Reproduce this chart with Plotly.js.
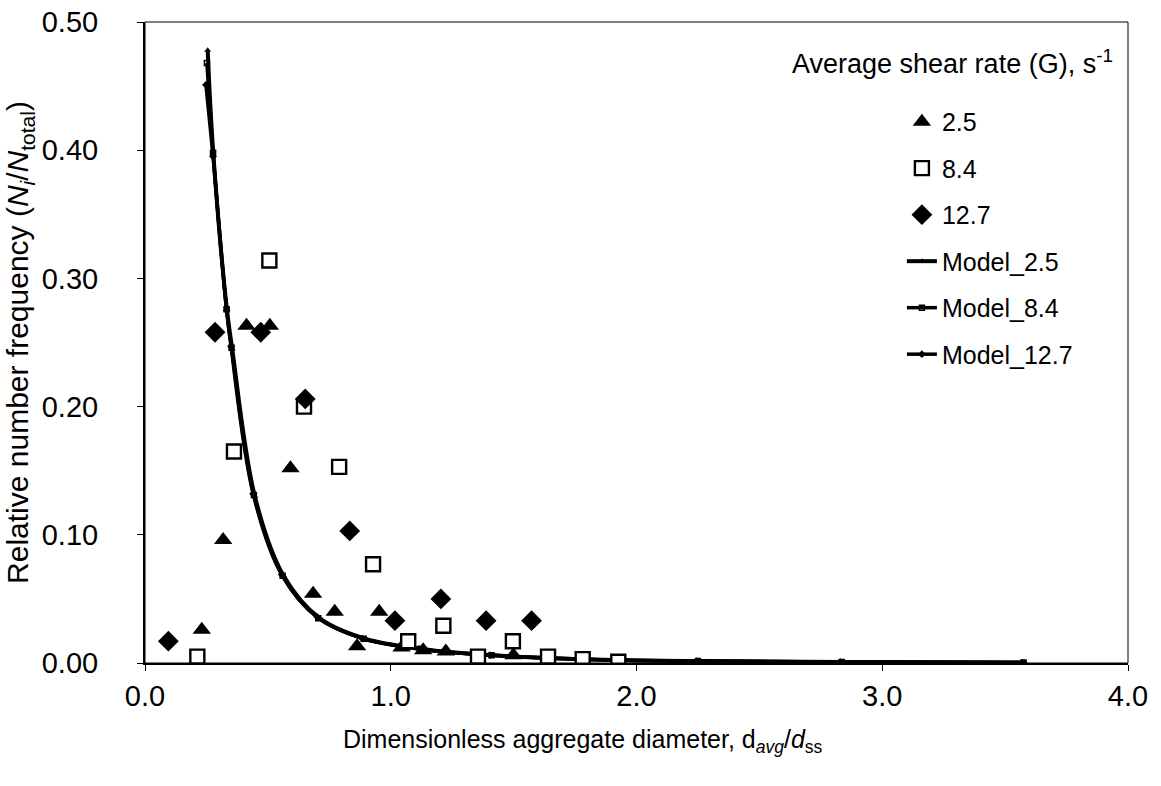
<!DOCTYPE html>
<html>
<head>
<meta charset="utf-8">
<script src="https://cdn.plot.ly/plotly-3.0.1.min.js"></script>
<style>html,body{margin:0;padding:0;background:#fff;}#chart{width:1161px;height:786px;}</style>
</head>
<body>
<div id="chart"></div>
<script>
// Measured data, G = 2.5 s^-1 (triangles)
const x_g25 = [0.231, 0.318, 0.413, 0.508, 0.592, 0.684, 0.772, 0.863, 0.953, 1.044, 1.132, 1.224, 1.499];
const y_g25 = [0.026, 0.096, 0.263, 0.263, 0.152, 0.054, 0.040, 0.013, 0.040, 0.012, 0.010, 0.009, 0.006];
// Measured data, G = 8.4 s^-1 (open squares)
const x_g84 = [0.213, 0.362, 0.506, 0.647, 0.790, 0.928, 1.071, 1.214, 1.355, 1.497, 1.640, 1.781, 1.926];
const y_g84 = [0.005, 0.165, 0.314, 0.200, 0.153, 0.077, 0.017, 0.029, 0.005, 0.017, 0.005, 0.003, 0.001];
// Measured data, G = 12.7 s^-1 (diamonds)
const x_g127 = [0.095, 0.285, 0.471, 0.652, 0.833, 1.017, 1.204, 1.388, 1.573];
const y_g127 = [0.017, 0.258, 0.258, 0.206, 0.103, 0.033, 0.050, 0.033, 0.033];
// Model curves
const x_m25 = [0.255, 0.277, 0.332, 0.355, 0.447, 0.564, 0.710, 0.895, 1.127, 1.420, 1.790, 2.255, 2.840, 3.580];
const y_m25 = [0.478, 0.400, 0.278, 0.245, 0.130, 0.068, 0.035, 0.019, 0.011, 0.006, 0.003, 0.0015, 0.0007, 0.0003];
const x_m84 = [0.252, 0.277, 0.332, 0.352, 0.443, 0.560, 0.705, 0.890, 1.120, 1.410, 1.780, 2.250, 2.835, 3.575];
const y_m84 = [0.468, 0.398, 0.276, 0.246, 0.131, 0.068, 0.035, 0.019, 0.011, 0.006, 0.003, 0.0015, 0.0007, 0.0003];
const x_m127 = [0.248, 0.277, 0.332, 0.350, 0.440, 0.556, 0.700, 0.885, 1.115, 1.405, 1.770, 2.245, 2.830, 3.570];
const y_m127 = [0.451, 0.395, 0.275, 0.247, 0.132, 0.069, 0.036, 0.019, 0.011, 0.006, 0.003, 0.0015, 0.0007, 0.0003];

const xTicks = [0, 1, 2, 3, 4];
const yTicks = [0, 0.1, 0.2, 0.3, 0.4, 0.5];

const FONT = 'Liberation Sans, Arial, Helvetica, sans-serif';
const K = '#000';

const traces = [
  {x: x_m25, y: y_m25, name: 'Model_2.5', mode: 'lines+markers', line: {color: K, width: 4, shape: 'spline'},
   marker: {symbol: 'triangle-up', size: 6, color: K}, legendgroup: 'm25', legendrank: 4},
  {x: x_m84, y: y_m84, name: 'Model_8.4', mode: 'lines+markers', line: {color: K, width: 3.5, shape: 'spline'},
   marker: {symbol: 'square-open', size: 5, color: K, line: {width: 1.5}}, legendgroup: 'm84', legendrank: 5},
  {x: x_m127, y: y_m127, name: 'Model_12.7', mode: 'lines+markers', line: {color: K, width: 3.5, shape: 'spline'},
   marker: {symbol: 'diamond', size: 6, color: K}, legendgroup: 'm127', legendrank: 6},
  {x: x_g25, y: y_g25, name: '2.5', mode: 'markers', marker: {symbol: 'triangle-up', size: 16, color: K},
   legendgroup: 'g25', legendrank: 1},
  {x: x_g84, y: y_g84, name: '8.4', mode: 'markers',
   marker: {symbol: 'square', size: 14, color: '#fff', line: {color: K, width: 2.4}}, legendgroup: 'g84', legendrank: 2},
  {x: x_g127, y: y_g127, name: '12.7', mode: 'markers', marker: {symbol: 'diamond', size: 16, color: K},
   legendgroup: 'g127', legendrank: 3}
];

const layout = {
  width: 1161, height: 786,
  paper_bgcolor: '#fff', plot_bgcolor: '#fff',
  margin: {l: 145, r: 33, t: 22, b: 123},
  font: {family: FONT, color: K, size: 26},
  showlegend: true,
  legend: {x: 0.770, xanchor: 'left', y: 0.88, yanchor: 'top', bgcolor: 'rgba(0,0,0,0)',
           font: {family: FONT, size: 25, color: K}, traceorder: 'grouped', tracegroupgap: 11, itemwidth: 30},
  xaxis: {range: [0, 4], tickvals: xTicks, ticktext: xTicks.map(v => v.toFixed(1)),
          ticks: 'outside', ticklen: 6, tickwidth: 1, tickcolor: K, ticklabelstandoff: 0,
          showline: true, linewidth: 2, linecolor: K, showgrid: false, zeroline: false,
          tickfont: {family: FONT, size: 29, color: K}},
  yaxis: {range: [0, 0.5], tickvals: yTicks, ticktext: yTicks.map(v => v.toFixed(2)),
          ticks: 'outside', ticklen: 6, tickwidth: 1, tickcolor: K, ticklabelstandoff: 33,
          showline: true, linewidth: 2, linecolor: K, showgrid: false, zeroline: false,
          tickfont: {family: FONT, size: 29, color: K},
          title: {text: 'Relative number frequency (<i>N<sub>i</sub></i>/<i>N</i><sub>total</sub>)',
                  font: {family: FONT, size: 30, color: K}, standoff: 4}},
  shapes: [{type: 'rect', xref: 'paper', yref: 'paper', x0: 0, x1: 1, y0: 0, y1: 1,
            line: {color: K, width: 1}, fillcolor: 'rgba(0,0,0,0)'}],
  annotations: [
    {xref: 'paper', yref: 'paper', x: 0.656, y: 0.9376, xanchor: 'left', yanchor: 'middle',
     showarrow: false, text: 'Average shear rate (G), s<sup>-1</sup>',
     font: {family: FONT, size: 27, color: K}},
    {xref: 'paper', yref: 'paper', x: 0.4456, y: -0.1217, xanchor: 'center', yanchor: 'middle',
     showarrow: false, text: 'Dimensionless aggregate diameter, d<sub><i>avg</i></sub>/<i>d</i><sub>ss</sub>',
     font: {family: FONT, size: 25, color: K}}
  ]
};

Plotly.newPlot('chart', traces, layout, {displayModeBar: false, staticPlot: true});
</script>
</body>
</html>
